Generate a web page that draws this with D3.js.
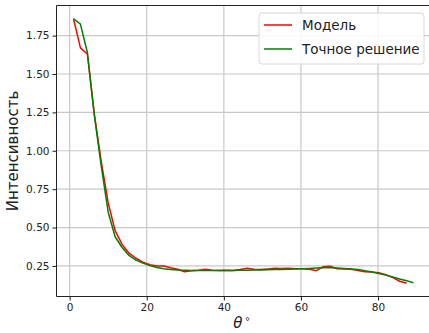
<!DOCTYPE html>
<html>
<head>
<meta charset="utf-8">
<script src="https://cdn.jsdelivr.net/npm/d3@7"></script>
<style>
  html, body { margin: 0; padding: 0; background: #fff; overflow: hidden; }
  svg { display: block; font-family: "DejaVu Sans", sans-serif; }
</style>
</head>
<body>
<svg id="chart" width="429" height="333"></svg>
<script>
// Scattering angle, degrees
const angles = [1, 2.8, 4.6, 6.4, 8.2, 10, 11.8, 13.6, 15.4, 17.2, 19, 20.8, 22.6, 24.4, 26.2,
  28, 29.8, 31.6, 33.4, 35.2, 37, 38.8, 40.6, 42.4, 44.2, 46, 47.8, 49.6, 51.4, 53.2, 55,
  56.8, 58.6, 60.4, 62.2, 64, 65.8, 67.6, 69.4, 71.2, 73, 74.8, 76.6, 78.4, 80.2, 82, 83.8,
  85.6, 87.4, 89.2];

// Model prediction (one sample shorter than the exact solution)
const model = [1.86, 1.67, 1.63, 1.24, 0.93, 0.66, 0.48, 0.39, 0.333, 0.30, 0.275, 0.258,
  0.250, 0.250, 0.238, 0.228, 0.212, 0.218, 0.222, 0.228, 0.222, 0.220, 0.222, 0.220, 0.226,
  0.235, 0.228, 0.226, 0.230, 0.235, 0.233, 0.235, 0.232, 0.232, 0.228, 0.219, 0.245, 0.248,
  0.232, 0.230, 0.228, 0.220, 0.212, 0.210, 0.205, 0.193, 0.175, 0.150, 0.137];

// Exact solution
const exact = [1.86, 1.825, 1.64, 1.23, 0.90, 0.60, 0.44, 0.37, 0.318, 0.288, 0.268, 0.252,
  0.240, 0.232, 0.227, 0.224, 0.222, 0.221, 0.220, 0.220, 0.220, 0.220, 0.220, 0.221, 0.222,
  0.222, 0.223, 0.224, 0.225, 0.226, 0.227, 0.229, 0.230, 0.232, 0.234, 0.236, 0.238, 0.238,
  0.236, 0.233, 0.230, 0.226, 0.219, 0.210, 0.200, 0.190, 0.178, 0.165, 0.153, 0.141];

const xTicks = [0, 20, 40, 60, 80];
const yTicks = [0.25, 0.5, 0.75, 1.0, 1.25, 1.5, 1.75];

const seriesList = [
  { name: "Модель", color: "#ff0000", values: model },
  { name: "Точное решение", color: "#008000", values: exact }
];

const svg = d3.select("#chart");
const plot = { left: 56.5, right: 430.5, top: 5.5, bottom: 296.5 };

// Autoscale with 5% padding on each side
function padded(lo, hi) {
  const m = (hi - lo) * 0.05;
  return [lo - m, hi + m];
}
const allY = model.concat(exact);
const x = d3.scaleLinear()
  .domain(padded(d3.min(angles), d3.max(angles)))
  .range([plot.left, plot.right]);
const y = d3.scaleLinear()
  .domain(padded(d3.min(allY), d3.max(allY)))
  .range([plot.bottom, plot.top]);

// Grid
const grid = svg.append("g").attr("stroke", "#c8c8c8").attr("stroke-width", 1.2);
grid.selectAll("line.gx").data(xTicks).join("line")
  .attr("x1", d => x(d)).attr("x2", d => x(d))
  .attr("y1", plot.top).attr("y2", plot.bottom);
grid.selectAll("line.gy").data(yTicks).join("line")
  .attr("y1", d => y(d)).attr("y2", d => y(d))
  .attr("x1", plot.left).attr("x2", plot.right);

// Curves
const clip = svg.append("clipPath").attr("id", "clip").append("rect")
  .attr("x", plot.left).attr("y", plot.top)
  .attr("width", plot.right - plot.left).attr("height", plot.bottom - plot.top);

const line = d3.line().x(d => x(d[0])).y(d => y(d[1]));
svg.append("g").attr("clip-path", "url(#clip)")
  .selectAll("path").data(seriesList).join("path")
  .attr("fill", "none")
  .attr("stroke", d => d.color)
  .attr("stroke-width", 1.5)
  .attr("stroke-linejoin", "round")
  .attr("d", d => line(d.values.map((v, i) => [angles[i], v])));

// Axes
const xAxis = d3.axisBottom(x).tickValues(xTicks).tickSize(4).tickPadding(3)
  .tickFormat(d3.format("d"));
const yAxis = d3.axisLeft(y).tickValues(yTicks).tickSize(4).tickPadding(3)
  .tickFormat(d3.format(".2f"));

const gx = svg.append("g").attr("transform", `translate(0,${plot.bottom})`).call(xAxis);
const gy = svg.append("g").attr("transform", `translate(${plot.left},0)`).call(yAxis);
[gx, gy].forEach(g => {
  g.select(".domain").remove();
  g.selectAll(".tick line").attr("stroke", "#000").attr("stroke-width", 0.9);
  g.selectAll(".tick text").attr("fill", "#222").attr("font-size", 10.5)
    .attr("font-family", "DejaVu Sans, sans-serif");
});

// Spines (left, bottom, top)
const spines = svg.append("g").attr("stroke", "#222").attr("stroke-width", 1).attr("fill", "none");
spines.append("path")
  .attr("d", `M${plot.right},${plot.top}H${plot.left}V${plot.bottom}H${plot.right}`);

// Axis labels
svg.append("text")
  .attr("transform", `translate(18,${(plot.top + plot.bottom) / 2}) rotate(-90)`)
  .attr("text-anchor", "middle")
  .attr("font-size", 15)
  .attr("fill", "#222")
  .text("Интенсивность");

const xl = svg.append("text")
  .attr("x", 242).attr("y", 328)
  .attr("text-anchor", "middle")
  .attr("fill", "#222")
  .attr("font-size", 15);
xl.append("tspan").attr("font-style", "italic").text("θ");
xl.append("tspan").attr("font-size", 10).attr("dx", 2).attr("dy", -6).text("∘");

// Legend
const lg = svg.append("g").attr("transform", "translate(259,13)");
lg.append("rect")
  .attr("width", 165).attr("height", 51).attr("rx", 3)
  .attr("fill", "#fff").attr("fill-opacity", 0.85)
  .attr("stroke", "#d6d6d6").attr("stroke-width", 1);
const items = lg.selectAll("g.item").data(seriesList).join("g")
  .attr("transform", (d, i) => `translate(0,${12 + i * 24})`);
items.append("line")
  .attr("x1", 5).attr("x2", 33)
  .attr("stroke", d => d.color).attr("stroke-width", 1.5);
items.append("text")
  .attr("x", 43).attr("dy", "0.36em")
  .attr("font-size", 13.5).attr("fill", "#222")
  .text(d => d.name);
</script>
</body>
</html>
